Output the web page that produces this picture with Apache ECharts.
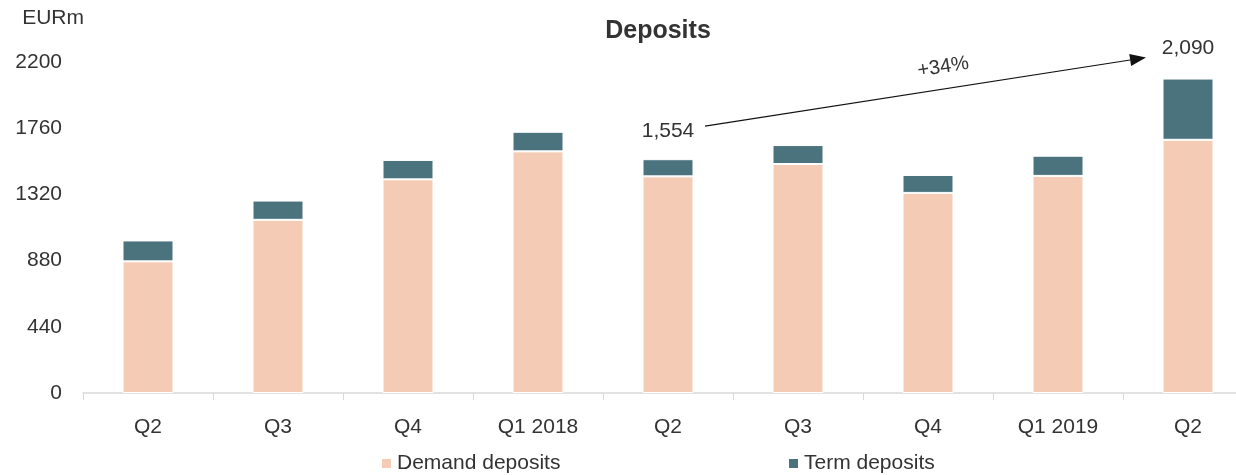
<!DOCTYPE html>
<html>
<head>
<meta charset="utf-8">
<script src="https://cdn.jsdelivr.net/npm/echarts@6/dist/echarts.min.js"></script>
<style>
  html, body { margin: 0; padding: 0; background: #fff; overflow: hidden; }
  #chart { width: 1260px; height: 475px; }
</style>
</head>
<body>
<div id="chart"></div>
<script>
// quarters (2017 Q2 .. 2019 Q2)
const categories = ['Q2', 'Q3', 'Q4', 'Q1 2018', 'Q2', 'Q3', 'Q4', 'Q1 2019', 'Q2'];
const demandDeposits = [875, 1151, 1420, 1606, 1440, 1522, 1330, 1443, 1683];
const termDeposits = [139, 128, 129, 130, 114, 126, 119, 134, 407];
const yTicks = [0, 440, 880, 1320, 1760, 2200];
const growthLabel = '+34%';

const FONT = '"Liberation Sans", Arial, sans-serif';
const TXT = '#333';

// the plot runs a little past the right edge of the 1236px window, as in the original
const chart = echarts.init(document.getElementById('chart'));

const totals = demandDeposits.map((d, i) => d + termDeposits[i]);
const fmt = v => v.toLocaleString('en-US');

const legendText = { fontFamily: FONT, fontSize: 21, color: TXT };

let option = {
  animation: false,
  textStyle: { fontFamily: FONT },
  title: {
    text: 'Deposits',
    left: 653,
    top: 14,
    textAlign: 'center',
    textStyle: { fontFamily: FONT, fontSize: 25, fontWeight: 'bold', color: TXT }
  },
  legend: [
    { left: 375, top: 448, itemWidth: 11, itemHeight: 11, icon: 'rect', itemGap: 0,
      textStyle: legendText, data: ['Demand deposits'] },
    { left: 782, top: 448, itemWidth: 11, itemHeight: 11, icon: 'rect', itemGap: 0,
      textStyle: legendText, data: ['Term deposits'] }
  ],
  grid: { left: 83, width: 1170, top: 62, bottom: 82 },
  xAxis: {
    type: 'category',
    data: categories,
    axisLine: { lineStyle: { color: '#d9d9d9', width: 1.5 } },
    axisTick: { show: true, length: 7, lineStyle: { color: '#d9d9d9' } },
    axisLabel: { fontFamily: FONT, fontSize: 21, color: TXT, margin: 24 }
  },
  yAxis: {
    type: 'value',
    name: 'EURm',
    nameLocation: 'end',
    nameGap: 33,
    nameTextStyle: { fontFamily: FONT, fontSize: 21, color: TXT, align: 'right', padding: [0, -1, 0, 0] },
    min: yTicks[0],
    max: yTicks[yTicks.length - 1],
    interval: yTicks[1] - yTicks[0],
    axisLine: { show: false },
    axisTick: { show: false },
    splitLine: { show: false },
    axisLabel: { fontFamily: FONT, fontSize: 21, color: TXT, margin: 21, formatter: v => String(v) }
  },
  series: [
    {
      name: 'Demand deposits',
      type: 'bar',
      stack: 'dep',
      barWidth: 51,
      itemStyle: { color: '#F4CBB4', borderColor: '#fff', borderWidth: 1 },
      data: demandDeposits
    },
    {
      name: 'Term deposits',
      type: 'bar',
      stack: 'dep',
      barWidth: 51,
      itemStyle: { color: '#4A737E', borderColor: '#fff', borderWidth: 1 },
      data: termDeposits
    }
  ]
};
chart.setOption(option);

// growth annotation between Q2 2018 and Q2 2019, positioned from the data
const iFrom = 4, iTo = 8;
const pFrom = chart.convertToPixel({ seriesIndex: 0 }, [iFrom, totals[iFrom]]);
const pTo = chart.convertToPixel({ seriesIndex: 0 }, [iTo, totals[iTo]]);
const fromLabel = [pFrom[0], pFrom[1] - 28];
const toLabel = [pTo[0], pTo[1] - 30];
const start = [fromLabel[0] + 37, fromLabel[1] - 5];
const end = [toLabel[0] - 42, toLabel[1] + 9];
const ang = Math.atan2(end[1] - start[1], end[0] - start[0]);
const ah = 16, aw = 6;
const base = [end[0] - ah * Math.cos(ang), end[1] - ah * Math.sin(ang)];
const mid = [start[0] + (end[0] - start[0]) * 0.54, start[1] + (end[1] - start[1]) * 0.54];

chart.setOption({
  graphic: [
    {
      type: 'text', x: fromLabel[0], y: fromLabel[1],
      style: { text: fmt(totals[iFrom]), fontFamily: FONT, fontSize: 21, fill: TXT, align: 'center', verticalAlign: 'middle' }
    },
    {
      type: 'text', x: toLabel[0], y: toLabel[1],
      style: { text: fmt(2090), fontFamily: FONT, fontSize: 21, fill: TXT, align: 'center', verticalAlign: 'middle' }
    },
    {
      type: 'line',
      shape: { x1: start[0], y1: start[1], x2: base[0], y2: base[1] },
      style: { stroke: '#111', lineWidth: 1.2 }
    },
    {
      type: 'polygon',
      shape: {
        points: [
          end,
          [base[0] + aw * Math.sin(ang), base[1] - aw * Math.cos(ang)],
          [base[0] - aw * Math.sin(ang), base[1] + aw * Math.cos(ang)]
        ]
      },
      style: { fill: '#111' }
    },
    {
      type: 'text', x: mid[0], y: mid[1] - 22, rotation: -ang,
      style: { text: growthLabel, fontFamily: FONT, fontSize: 20, fill: TXT, align: 'center', verticalAlign: 'middle' }
    }
  ]
});
</script>
</body>
</html>
